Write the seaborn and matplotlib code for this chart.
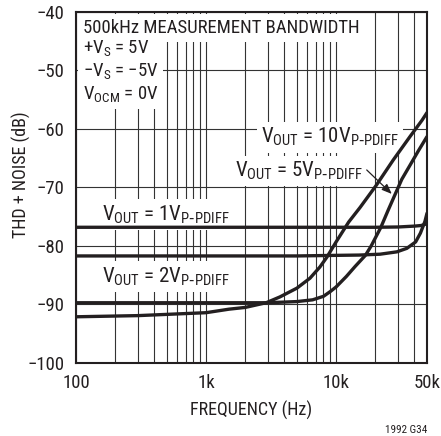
import numpy as np
import pandas as pd
import seaborn as sns
import matplotlib.pyplot as plt
from matplotlib import font_manager
from matplotlib.ticker import FixedLocator, NullFormatter

# THD + noise vs frequency
freq_1v = [100, 1000, 10000, 20000, 30000, 40000, 45000, 50000]
thd_1v = [-76.8, -76.8, -76.8, -76.8, -76.75, -76.6, -76.5, -76.2]

freq_2v = [100, 1000, 5000, 10000, 15000, 21800, 29300, 35000, 40900, 44500, 48200, 50000]
thd_2v = [-81.7, -81.7, -81.7, -81.6, -81.55, -81.4, -81.0, -80.4, -79.3, -77.8, -75.8, -74.4]

freq_5v = [100, 1000, 3000, 5000, 6600, 8000, 9000, 10000, 12000, 14000, 16800, 18600,
           22100, 25000, 28400, 32000, 37000, 43000, 50000]
thd_5v = [-89.7, -89.7, -89.7, -89.5, -89.2, -88.6, -87.8, -87.0, -85.2, -83.5, -81.6, -80.0,
          -76.8, -74.0, -71.2, -68.6, -66.2, -63.7, -61.3]

freq_10v = [100, 300, 1000, 1500, 2000, 2900, 3700, 5000, 6300, 7500, 8500, 10000, 12500,
            15300, 20400, 27500, 37000, 45800, 50000]
thd_10v = [-92.1, -91.9, -91.4, -90.8, -90.5, -89.7, -88.7, -87.2, -85.5, -83.6, -81.9, -79.3, -75.9,
           -73.4, -69.6, -65.3, -61.3, -58.5, -57.2]

x_ticks = [100, 1000, 10000, 50000]
x_ticklabels = ['100', '1k', '10k', '50k']
x_minor = [200, 300, 400, 500, 600, 700, 800, 900,
           2000, 3000, 4000, 5000, 6000, 7000, 8000, 9000,
           20000, 30000, 40000]
y_ticks = [-100, -90, -80, -70, -60, -50, -40]

df = pd.concat([
    pd.DataFrame({'freq': freq_1v, 'thd': thd_1v, 'vout': '1V'}),
    pd.DataFrame({'freq': freq_2v, 'thd': thd_2v, 'vout': '2V'}),
    pd.DataFrame({'freq': freq_5v, 'thd': thd_5v, 'vout': '5V'}),
    pd.DataFrame({'freq': freq_10v, 'thd': thd_10v, 'vout': '10V'}),
], ignore_index=True)

sns.set_theme(style='white')

# the original uses a condensed sans; take one if the box has it
ttf = font_manager.fontManager.ttflist
names = set(f.name for f in ttf)
narrow = None
for cand in ['Liberation Sans Narrow', 'Roboto Condensed', 'Open Sans Condensed', 'Arial Narrow']:
    if cand in names:
        narrow = cand
        break
stretch = 'normal'
if narrow is None and any(f.name == 'DejaVu Sans' and str(f.stretch) in ('condensed', 'semi-condensed')
                          for f in ttf):
    narrow = 'DejaVu Sans'
    stretch = 'condensed'
if narrow:
    plt.rcParams['font.family'] = [narrow, 'DejaVu Sans']
    plt.rcParams['font.stretch'] = stretch
    fs, fs_v, fs_tick, fs_lab = 13.5, 15, 13.5, 13
else:
    plt.rcParams['font.family'] = ['Liberation Sans', 'DejaVu Sans']
    fs, fs_v, fs_tick, fs_lab = 11.5, 12.8, 12.3, 11.3
plt.rcParams['mathtext.default'] = 'regular'
plt.rcParams['axes.unicode_minus'] = True

ink = '#231f20'

fig = plt.figure(figsize=(4.41, 4.36), dpi=100)
ax = fig.add_axes([76/441, 73/436, 351/441, 351/436])

sns.lineplot(data=df, x='freq', y='thd', units='vout', estimator=None, sort=True,
             color=ink, linewidth=2.4, ax=ax, zorder=5)

ax.set_xscale('log')
ax.set_xlim(100, 50000)
ax.set_ylim(-100, -40)
ax.xaxis.set_major_locator(FixedLocator(x_ticks))
ax.xaxis.set_minor_locator(FixedLocator(x_minor))
ax.xaxis.set_minor_formatter(NullFormatter())
ax.set_xticklabels(x_ticklabels)
ax.set_yticks(y_ticks)
ax.set_yticklabels([str(v).replace('-', '\u2212') for v in y_ticks])
ax.tick_params(which='both', length=0, labelsize=fs_tick, colors=ink)
ax.tick_params(axis='y', pad=8)
ax.tick_params(axis='x', pad=8)
ax.set_axisbelow(True)
ax.grid(which='both', axis='x', color='#333333', linewidth=0.8)
ax.grid(which='major', axis='y', color='#333333', linewidth=0.8)
for s in ax.spines.values():
    s.set_color(ink)
    s.set_linewidth(1.5)

ax.set_xlabel('FREQUENCY (Hz)', fontsize=fs_lab, color=ink, labelpad=6)
ax.set_ylabel('THD + NOISE (dB)', fontsize=fs_lab, color=ink)
ax.yaxis.set_label_coords(-0.128, 0.536)

box = dict(facecolor='white', edgecolor='none', boxstyle='square,pad=0.25')
ax.text(113, -43.6, '500kHz MEASUREMENT BANDWIDTH', fontsize=fs, color=ink,
        va='baseline', ha='left', bbox=box)
ax.text(113, -54.9, '+$V_S$ = 5V\n\u2212$V_S$ = \u22125V\n$V_{OCM}$ = 0V', fontsize=fs, color=ink,
        va='baseline', ha='left', linespacing=1.2, bbox=box)

vbox = dict(facecolor='white', edgecolor='none', boxstyle='square,pad=0.2')
ax.text(2650, -62.4, r'$V_{OUT}$ = 10$V_{P\text{-}PDIFF}$', fontsize=fs_v, color=ink,
        va='baseline', ha='left', bbox=vbox)
ax.text(1670, -68.2, r'$V_{OUT}$ = 5$V_{P\text{-}PDIFF}$', fontsize=fs_v, color=ink,
        va='baseline', ha='left', bbox=vbox)
ax.text(158, -75.6, r'$V_{OUT}$ = 1$V_{P\text{-}PDIFF}$', fontsize=fs_v, color=ink,
        va='baseline', ha='left', bbox=vbox)
ax.text(158, -86.2, r'$V_{OUT}$ = 2$V_{P\text{-}PDIFF}$', fontsize=fs_v, color=ink,
        va='baseline', ha='left', bbox=vbox)

ax.annotate('', xy=(26800, -71.1), xytext=(17200, -67.0),
            arrowprops=dict(arrowstyle='-|>,head_length=0.5,head_width=0.2',
                            color=ink, lw=0.9, shrinkA=0, shrinkB=0))

fig.text(427/441, 1 - 433/436, '1992 G34', fontsize=8, color=ink, ha='right', va='baseline')

fig.savefig('out.png', dpi=100)
